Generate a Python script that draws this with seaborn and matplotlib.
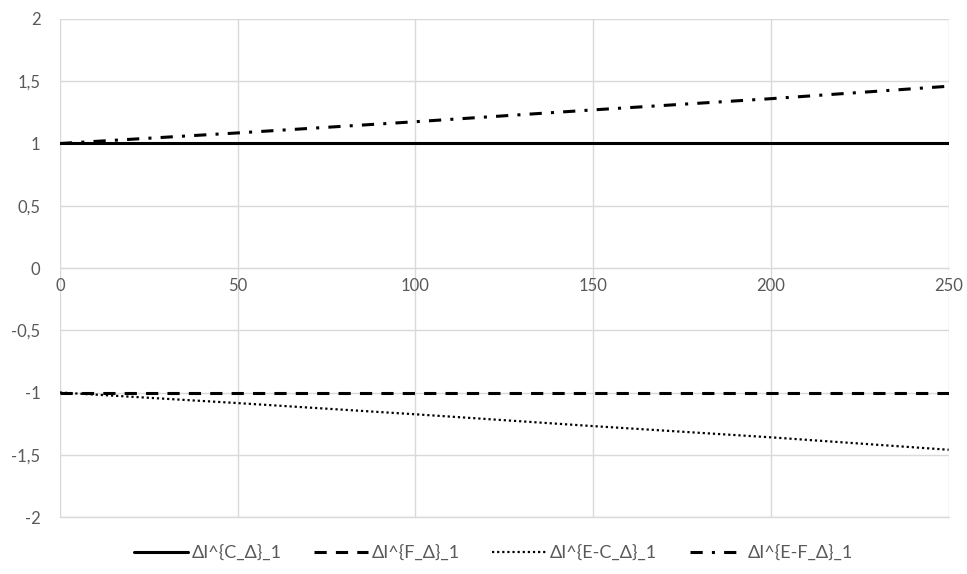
import numpy as np
import pandas as pd
import seaborn as sns
import matplotlib.pyplot as plt
from matplotlib.ticker import FuncFormatter, MultipleLocator

# values
x = [0, 50, 100, 150, 200, 250]
c_delta = [1, 1, 1, 1, 1, 1]
f_delta = [-1, -1, -1, -1, -1, -1]
ec_delta = [-1, -1.085, -1.175, -1.27, -1.36, -1.46]
ef_delta = [1, 1.085, 1.175, 1.27, 1.36, 1.46]

labels = ["ΔI^{C_Δ}_1", "ΔI^{F_Δ}_1", "ΔI^{E-C_Δ}_1", "ΔI^{E-F_Δ}_1"]
series = [c_delta, f_delta, ec_delta, ef_delta]

df = pd.DataFrame({"x": x * 4,
                   "y": sum(series, []),
                   "name": [l for l in labels for _ in x]})

sns.set_style("white")
plt.rcParams['font.family'] = ['Lato', 'DejaVu Sans']

fig = plt.figure(figsize=(9.67, 5.74), dpi=100)
ax = fig.add_axes([0.062, 0.0993, 0.919, 0.8676])

styles = {labels[0]: dict(lw=2.2, dashes=None),
          labels[1]: dict(lw=2.2, dashes=(4, 3)),
          labels[2]: dict(lw=1.6, dashes=(1, 1.3)),
          labels[3]: dict(lw=2.2, dashes=(4, 3, 1, 3))}

for name in labels:
    sub = df[df["name"] == name]
    st = styles[name]
    sns.lineplot(data=sub, x="x", y="y", ax=ax, color="black",
                 lw=st["lw"], label=name)
    if st["dashes"] is not None:
        ax.get_lines()[-1].set_dashes(st["dashes"])

ax.set_xlim(0, 250)
ax.set_ylim(-2, 2)
ax.xaxis.set_major_locator(MultipleLocator(50))
ax.yaxis.set_major_locator(MultipleLocator(0.5))
ax.yaxis.set_major_formatter(FuncFormatter(lambda v, p: f"{v:g}".replace(".", ",")))
ax.grid(True, color="#d9d9d9", lw=1)
ax.set_axisbelow(True)
ax.axhline(-2, color="#d9d9d9", lw=1, clip_on=False, zorder=0.4)
for s in ["top", "right", "left"]:
    ax.spines[s].set_visible(False)
ax.spines["bottom"].set_position(("data", 0))
ax.spines["bottom"].set_color("#d9d9d9")
ax.spines["bottom"].set_zorder(0.5)
ax.tick_params(axis="both", length=0, labelsize=12, labelcolor="#595959")
ax.tick_params(axis="x", pad=7)
ax.tick_params(axis="y", pad=14)
ax.set_xlabel("")
ax.set_ylabel("")

ax.legend_.remove()
handles, labs = ax.get_legend_handles_labels()
fig.legend(handles, labs, loc="center", bbox_to_anchor=(0.51, 0.037), ncol=4,
           frameon=False, fontsize=13, handlelength=3.0, handletextpad=0.2,
           columnspacing=1.8, labelcolor="#595959")

fig.savefig("out.png", dpi=100)
